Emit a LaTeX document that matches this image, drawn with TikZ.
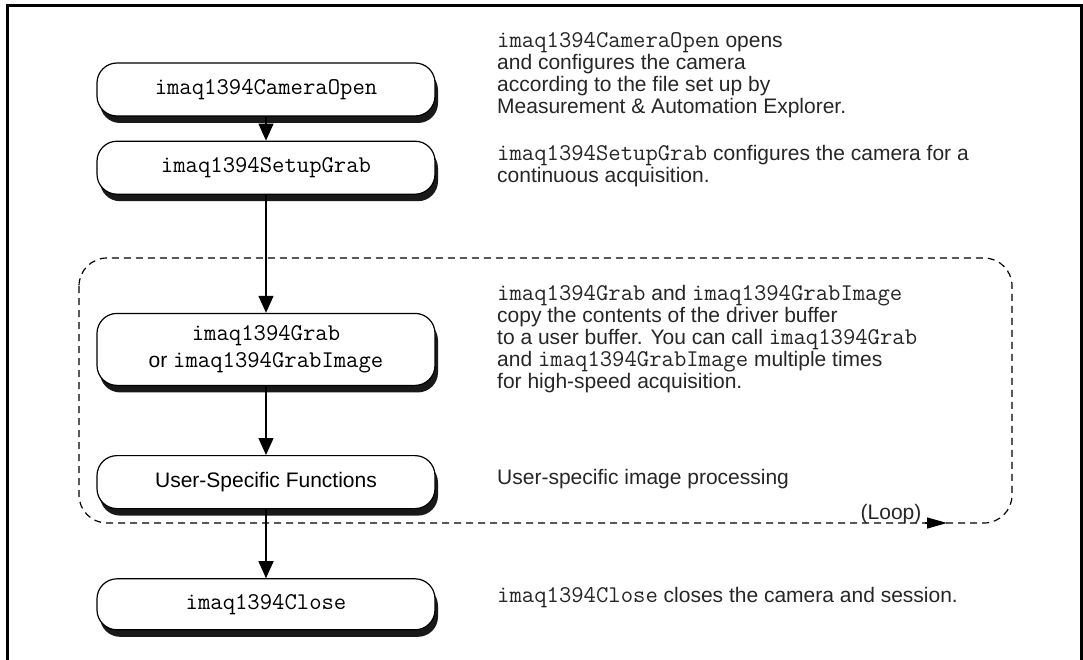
\documentclass[tikz,border=0pt]{standalone}
\usepackage{fontspec}
\setmainfont{Liberation Sans}
\usetikzlibrary{arrows.meta,shadows,positioning}

% function names in a typewriter face
\newcommand{\fn}[1]{{\fontsize{24}{22}\selectfont\ttfamily #1}}

\tikzset{
  funcbox/.style={draw, fill=white, line width=1.2pt, rounded corners=20pt,
    minimum width=338pt, minimum height=53pt, align=center, inner sep=0pt,
    font=\fontsize{21}{27}\selectfont,
    general shadow={fill=black!90, shadow xshift=3pt, shadow yshift=-7pt}},
  desc/.style={anchor=west, align=left, inner sep=0pt, text=black!85,
    font=\fontsize{21}{22}\selectfont},
  flow/.style={line width=1.3pt, -{Triangle[length=17pt,width=15pt]}},
  loopline/.style={line width=1.2pt, dash pattern=on 7pt off 5pt}
}

\begin{document}
\begin{tikzpicture}[x=1pt, y=-1pt]
    \useasboundingbox (0,0) rectangle (1083,660);
    % Frame, open at the bottom
    \draw[line width=3pt] (7,660) -- (7,6) -- (1081,6) -- (1081,660);

    % Loop region
    \draw[loopline, rounded corners=28pt] (79,258) rectangle (1012,523);
    \coordinate (loopa) at (925,523);
    \coordinate (loopb) at (947,523);
    \draw[line width=1.2pt, -{Triangle[length=20pt,width=11pt]}] (loopa) -- (loopb);
    \node[desc, anchor=base] (loop) at (891,519) {(Loop)};

    % Function boxes
    \node[funcbox] (open) at (266,89.5) {\fn{imaq1394CameraOpen}};
    \node[funcbox, below=24pt of open] (setup) {\fn{imaq1394SetupGrab}};
    \node[funcbox, below=118pt of setup, minimum height=72pt] (grab)
        {\fn{imaq1394Grab}\\or \fn{imaq1394GrabImage}};
    \node[funcbox, below=69pt of grab] (user) {User-Specific Functions};
    \node[funcbox, below=69pt of user, minimum height=51pt] (close) {\fn{imaq1394Close}};

    % Arrows
    \draw[flow] (open) -- (setup);
    \draw[flow] (setup) -- (grab);
    \draw[flow] (grab) -- (user);
    \draw[flow] (user) -- (close);

    % Descriptions
    \node[desc] (opentxt) at (497,75) {\fn{imaq1394CameraOpen} opens\\
        and configures the camera\\
        according to the file set up by\\
        Measurement \& Automation Explorer.};
    \node[desc] (setuptxt) at (497,166) {\fn{imaq1394SetupGrab} configures the camera for a\\
        continuous acquisition.};
    \node[desc] (grabtxt) at (497,339) {\fn{imaq1394Grab} and \fn{imaq1394GrabImage}\\
        copy the contents of the driver buffer\\
        to a user buffer. You can call \fn{imaq1394Grab}\\
        and \fn{imaq1394GrabImage} multiple times\\
        for high-speed acquisition.};
    \node[desc] (usertxt) at (497,479) {User-specific image processing};
    \node[desc] (closetxt) at (497,598) {\fn{imaq1394Close} closes the camera and session.};
\end{tikzpicture}
\end{document}
